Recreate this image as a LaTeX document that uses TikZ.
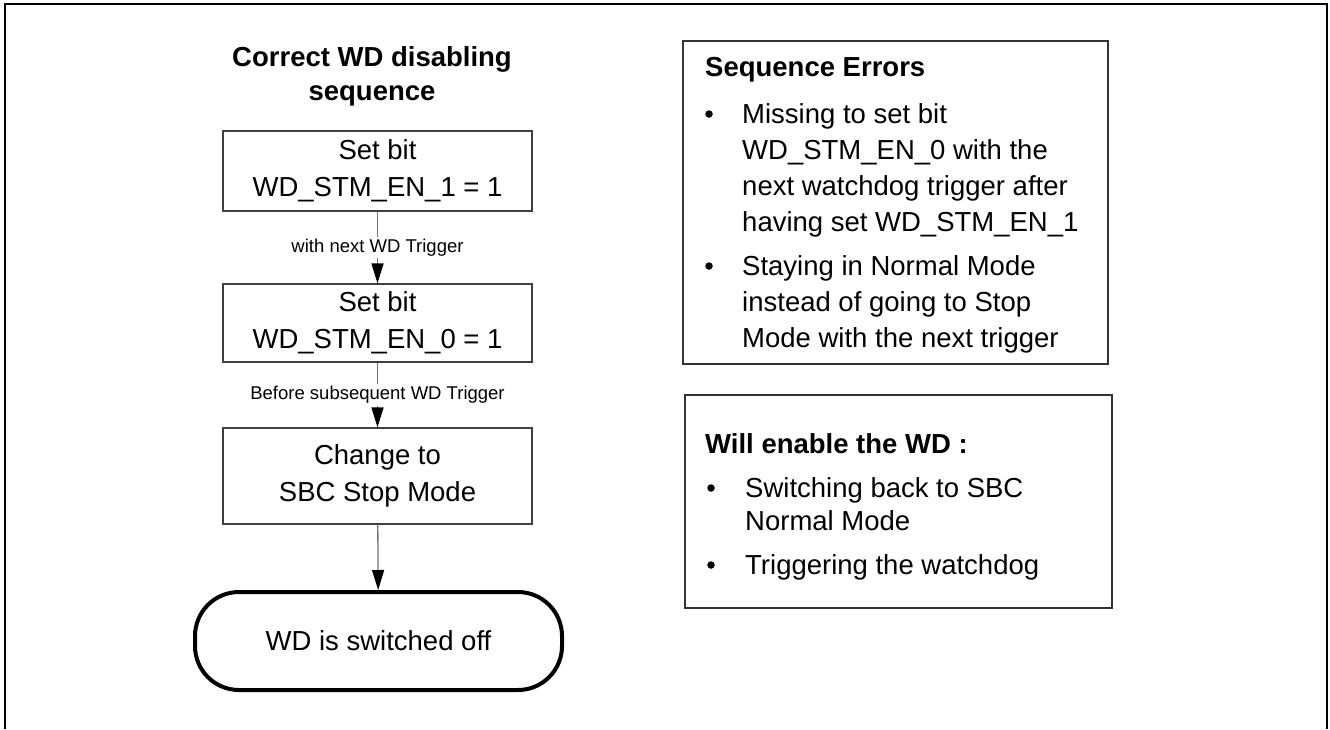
\documentclass[tikz,border=0pt]{standalone}
\usepackage{fontspec}
\setmainfont{Liberation Sans}
\usetikzlibrary{arrows.meta}
\begin{document}
\begin{tikzpicture}[x=1pt,y=-1pt,
  big/.style={font=\fontsize{27.5}{37}\selectfont},
  bigbold/.style={font=\fontsize{27.5}{34}\selectfont\bfseries},
  small/.style={font=\fontsize{18.5}{22}\selectfont},
  stepbox/.style={draw=black!75, line width=1.2pt, minimum width=309pt, align=center, inner sep=0pt, big},
  term/.style={draw=black, line width=4pt, rounded corners=44pt, minimum width=367pt, minimum height=98pt, inner sep=0pt, big},
  conn/.style={draw=black!55, line width=1.3pt, -{Triangle[length=20pt,width=12pt,color=black]}},
  lbl/.style={fill=white, inner sep=2pt, small},
  infobox/.style={draw=black!80, line width=1.2pt},
  line/.style={anchor=base west, inner sep=0pt, big},
  bul/.style={circle, fill=black, inner sep=0pt, minimum size=7.5pt}
]
\useasboundingbox (0,0) rectangle (1330,729);
% outer frame (no bottom edge)
\draw[line width=1.5pt] (5,729) -- (5,4) -- (1327,4) -- (1327,729);

% title
\node[bigbold, align=center] (title) at (372,76) {Correct WD disabling\\sequence};

% flow boxes
\node[stepbox, minimum height=80pt] (b1) at (377.5,171) {Set bit\\WD\_STM\_EN\_1 = 1};
\node[stepbox, minimum height=78pt] (b2) at (377.5,323) {Set bit\\WD\_STM\_EN\_0 = 1};
\node[stepbox, minimum height=96pt] (b3) at (377.5,476) {Change to\\SBC Stop Mode};
\node[term] (t) at (378.5,641) {WD is switched off};

\draw[conn] (b1) -- node[lbl] (l1) {with next WD Trigger} (b2);
\draw[conn] (b2) -- node[lbl] (l2) {Before subsequent WD Trigger} (b3);
\draw[conn] (b3) -- (t);

% box A
\draw[infobox] (683,41) rectangle (1108,364);
\node[anchor=base west, inner sep=0pt, font=\fontsize{27.5}{34}\selectfont\bfseries] (at) at (705,76) {Sequence Errors};
\node[bul] (ab1) at (709,114) {};
\node[line] (a1) at (742,123) {Missing to set bit};
\node[line] (a2) at (742,159) {WD\_STM\_EN\_0 with the};
\node[line] (a3) at (742,195) {next watchdog trigger after};
\node[line] (a4) at (742,231) {having set WD\_STM\_EN\_1};
\node[bul] (ab2) at (709,266) {};
\node[line] (a5) at (742,275) {Staying in Normal Mode};
\node[line] (a6) at (742,311) {instead of going to Stop};
\node[line] (a7) at (742,347) {Mode with the next trigger};

% box B
\draw[infobox] (685,395) rectangle (1112,608);
\node[anchor=base west, inner sep=0pt, font=\fontsize{27.5}{34}\selectfont\bfseries] (bt) at (705,453) {Will enable the WD :};
\node[bul] (bb1) at (711,488) {};
\node[line] (c1) at (745,497) {Switching back to SBC};
\node[line] (c2) at (745,530) {Normal Mode};
\node[bul] (bb2) at (711,565) {};
\node[line] (c3) at (745,574) {Triggering the watchdog};
\end{tikzpicture}
\end{document}
